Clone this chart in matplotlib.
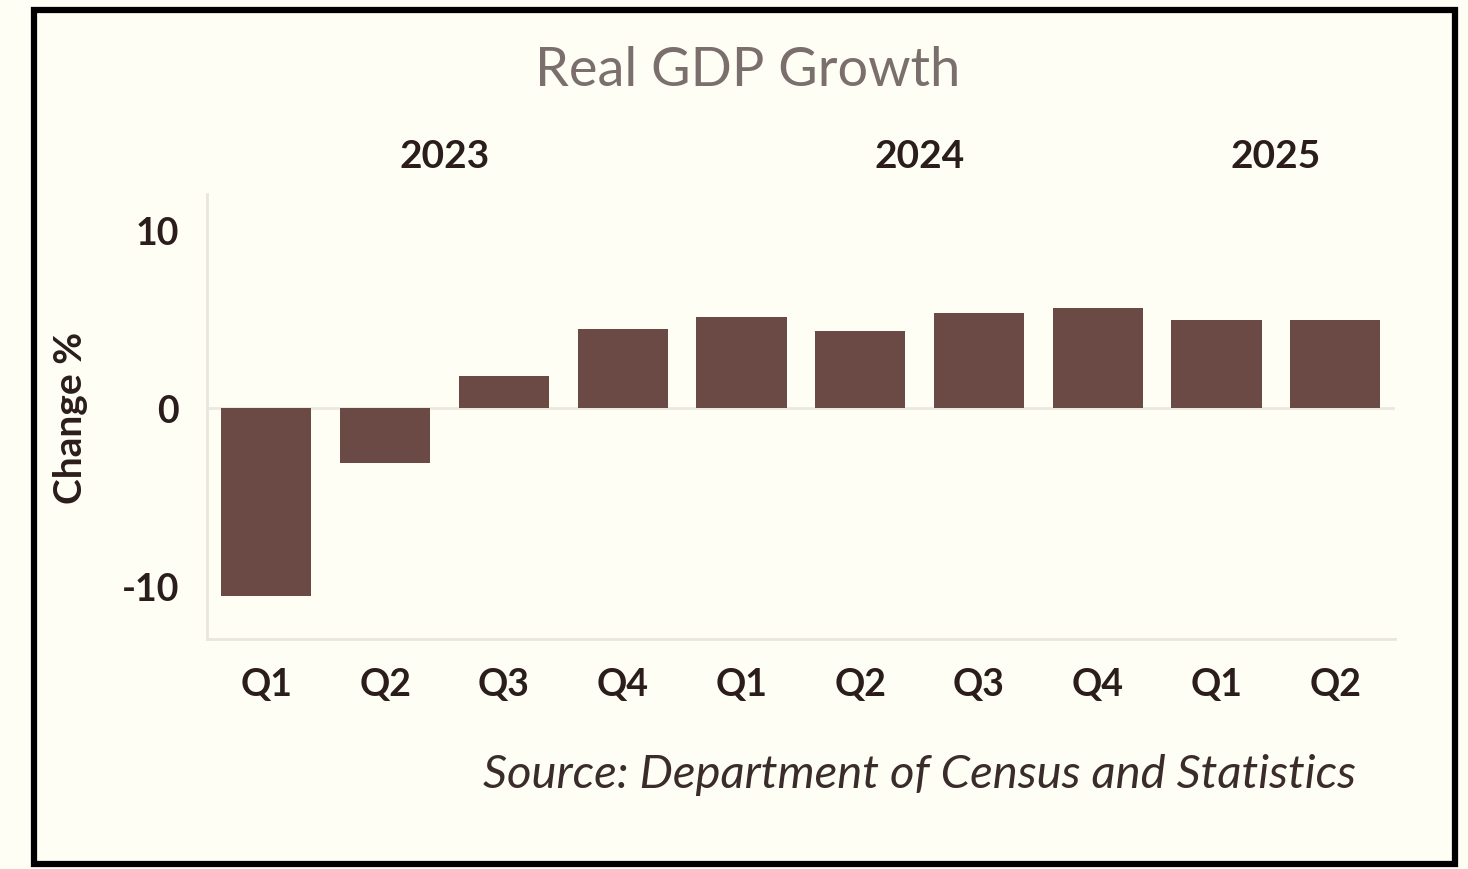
import matplotlib.pyplot as plt
import matplotlib.transforms as mtransforms
from matplotlib.patches import Rectangle
import numpy as np

# Quarterly real GDP growth, % change
quarters = ['Q1', 'Q2', 'Q3', 'Q4', 'Q1', 'Q2', 'Q3', 'Q4', 'Q1', 'Q2']
years = [2023, 2023, 2023, 2023, 2024, 2024, 2024, 2024, 2025, 2025]
growth = [-10.6, -3.1, 1.8, 4.4, 5.1, 4.3, 5.3, 5.6, 4.9, 4.9]

bg = '#fefef4'
bar_color = '#6b4a45'
text_dark = '#2b1d1c'

plt.rcParams['font.family'] = ['Lato', 'DejaVu Sans']

fig = plt.figure(figsize=(14.68, 8.70), dpi=100, facecolor=bg)
ax = fig.add_axes([0.141, 0.2644, 0.809, 0.5115], facecolor=bg)

x = np.arange(len(growth))
ax.bar(x, growth, width=0.76, color=bar_color, zorder=3)

ax.set_xlim(-0.5, len(growth) - 0.5)
ax.set_ylim(-13, 12)
ax.set_yticks([-10, 0, 10])
ax.set_yticklabels(['-10', '0', '10'], fontsize=27, fontweight='bold', color=text_dark)
ax.set_xticks(x)
ax.set_xticklabels(quarters, fontsize=27, fontweight='bold', color=text_dark)
ax.tick_params(axis='both', length=0)
ax.tick_params(axis='x', pad=20)
ax.tick_params(axis='y', pad=20)

# zero line
ax.axhline(0, color='#ebe8de', lw=2, zorder=2)

for side in ['top', 'right']:
    ax.spines[side].set_visible(False)
for side in ['left', 'bottom']:
    ax.spines[side].set_color('#e9e7dd')
    ax.spines[side].set_linewidth(2)

ax.set_ylabel('Change %', fontsize=28, fontweight='bold', color=text_dark, labelpad=24)

# year labels centred over their quarters
trans = mtransforms.blended_transform_factory(ax.transData, fig.transFigure)
for yr in sorted(set(years)):
    idx = [i for i, y in enumerate(years) if y == yr]
    ax.text(np.mean(idx), 1 - 157 / 870, str(yr), transform=trans,
            ha='center', va='center', fontsize=28, fontweight='bold', color=text_dark)

fig.text(0.5095, 1 - 70 / 870, 'Real GDP Growth', ha='center', va='center',
         fontsize=39, color='#7b6f6d')

fig.text(0.9235, 1 - 775 / 870, 'Source: Department of Census and Statistics',
         ha='right', va='center', fontsize=34, style='italic', color='#3a2c2b')

# black frame around the chart
fig.patches.append(Rectangle((34 / 1468, 1 - 865 / 870), (1455 - 34) / 1468, (865 - 11) / 870,
                             transform=fig.transFigure, fill=False, edgecolor='black',
                             linewidth=4.5, zorder=10))

fig.savefig('out.png', dpi=100, facecolor=bg)
